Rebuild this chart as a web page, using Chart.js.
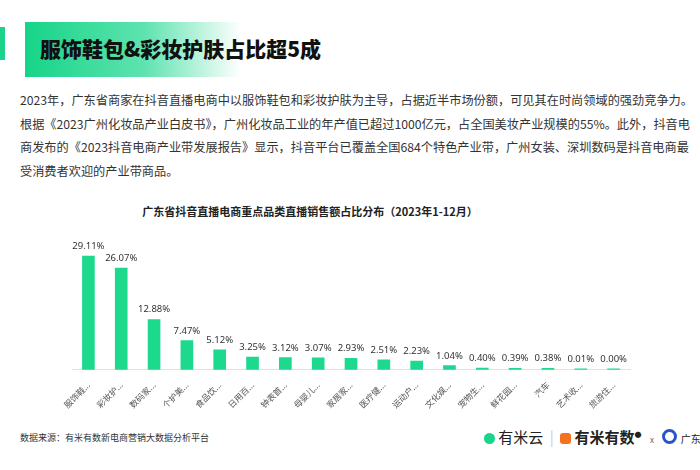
<!DOCTYPE html>
<html>
<head>
<meta charset="utf-8">
<script src="https://cdn.jsdelivr.net/npm/chart.js@4.4.0/dist/chart.umd.min.js"></script>
<style>
  body { margin: 0; width: 700px; height: 470px; background: #fff; position: relative; overflow: hidden;
         font-family: "Noto Sans CJK SC", "Noto Sans", sans-serif; }
  .side { position: absolute; left: 0; top: 27px; width: 5px; height: 33px; background: #19d48a; }
  .banner { position: absolute; left: 25px; top: 22px; width: 300px; height: 55px;
            background: linear-gradient(90deg, #16d488 0%, #5fe3b0 40%, rgba(255,255,255,0) 72%); }
  .banner span { position: absolute; left: 15px; top: 11px; font-size: 21px; font-weight: 900; color: #111; white-space: nowrap; }
  .para { position: absolute; left: 20px; top: 89px; width: 660px; font-size: 12.2px; color: #333; }
  .para div { height: 23.5px; line-height: 23.5px; text-align: justify; text-align-last: justify; white-space: nowrap; }
  .para div.last { text-align-last: left; }
  .ctitle { position: absolute; left: 0; width: 620px; top: 203px; text-align: center; font-size: 11px; font-weight: bold; color: #222; }
  #wrap { position: absolute; left: 30px; top: 225px; width: 640px; height: 187px; }
  .src { position: absolute; left: 20px; top: 431px; font-size: 9px; color: #333; }
  .logos { position: absolute; left: 484px; top: 426px; white-space: nowrap; font-size: 15px; color: #222; }
  .logos .dot { display: inline-block; width: 11px; height: 11px; border-radius: 3px; vertical-align: -1px; }
</style>
</head>
<body>
<div class="side"></div>
<div class="banner"><span>服饰鞋包&amp;彩妆护肤占比超5成</span></div>
<div class="para">
  <div>2023年，广东省商家在抖音直播电商中以服饰鞋包和彩妆护肤为主导，占据近半市场份额，可见其在时尚领域的强劲竞争力。</div>
  <div>根据《2023广州化妆品产业白皮书》，广州化妆品工业的年产值已超过1000亿元，占全国美妆产业规模的55%。此外，抖音电</div>
  <div>商发布的《2023抖音电商产业带发展报告》显示，抖音平台已覆盖全国684个特色产业带，广州女装、深圳数码是抖音电商最</div>
  <div class="last">受消费者欢迎的产业带商品。</div>
</div>
<div class="ctitle">广东省抖音直播电商重点品类直播销售额占比分布（2023年1-12月）</div>
<div id="wrap"><canvas id="bar_chart"></canvas></div>
<div class="src">数据来源：有米有数新电商营销大数据分析平台</div>
<div class="logos">
  <span class="dot" style="background:#19d48a;border-radius:50%"></span> 有米云
  <span style="color:#ccc;margin:0 3px">|</span>
  <span class="dot" style="background:#f5701f"></span> <b>有米有数</b><sup style="font-size:7px">●</sup>
  <span style="font-size:8px;color:#666;margin:0 5px">x</span>
  <span class="dot" style="background:#fff;border:3px solid #2a55c8;border-radius:50%;width:9px;height:9px"></span>
  <span style="font-size:10px">广东</span>
</div>
<script>
const labels = ['服饰鞋...', '彩妆护...', '数码家...', '个护美...', '食品饮...', '日用百...', '钟表首...', '母婴儿...',
  '家居家...', '医疗健...', '运动户...', '文化娱...', '宠物生...', '鲜花园...', '汽车', '艺术收...', '旅游住...'];
const shares = [29.11, 26.07, 12.88, 7.47, 5.12, 3.25, 3.12, 3.07, 2.93, 2.51, 2.23, 1.04, 0.40, 0.39, 0.38, 0.01, 0.00];

// labels above each bar
const valueLabels = {
  id: 'valueLabels',
  afterDatasetsDraw(chart) {
    const ctx = chart.ctx;
    const meta = chart.getDatasetMeta(0);
    ctx.save();
    ctx.font = '9.5px "Noto Sans", sans-serif';
    ctx.fillStyle = '#333';
    ctx.textAlign = 'center';
    ctx.textBaseline = 'bottom';
    meta.data.forEach((bar, i) => {
      ctx.fillText(shares[i].toFixed(2) + '%', bar.x, bar.y - 5);
    });
    ctx.restore();
  }
};

new Chart(document.getElementById('bar_chart'), {
  type: 'bar',
  data: {
    labels: labels,
    datasets: [{
      data: shares,
      backgroundColor: '#1cd98d',
      barThickness: 12,
      minBarLength: 1
    }]
  },
  options: {
    maintainAspectRatio: false,
    animation: false,
    layout: { padding: { left: 42, right: 40, top: 12 } },
    plugins: { legend: { display: false }, tooltip: { enabled: false } },
    scales: {
      x: {
        grid: { display: false },
        border: { color: '#e2e2e2' },
        ticks: { minRotation: 45, maxRotation: 45, color: '#555', font: { size: 8.5, family: '"Noto Sans CJK SC", sans-serif' }, padding: 2 }
      },
      y: { display: false, min: 0, max: 34 }
    }
  },
  plugins: [valueLabels]
});
</script>
</body>
</html>
